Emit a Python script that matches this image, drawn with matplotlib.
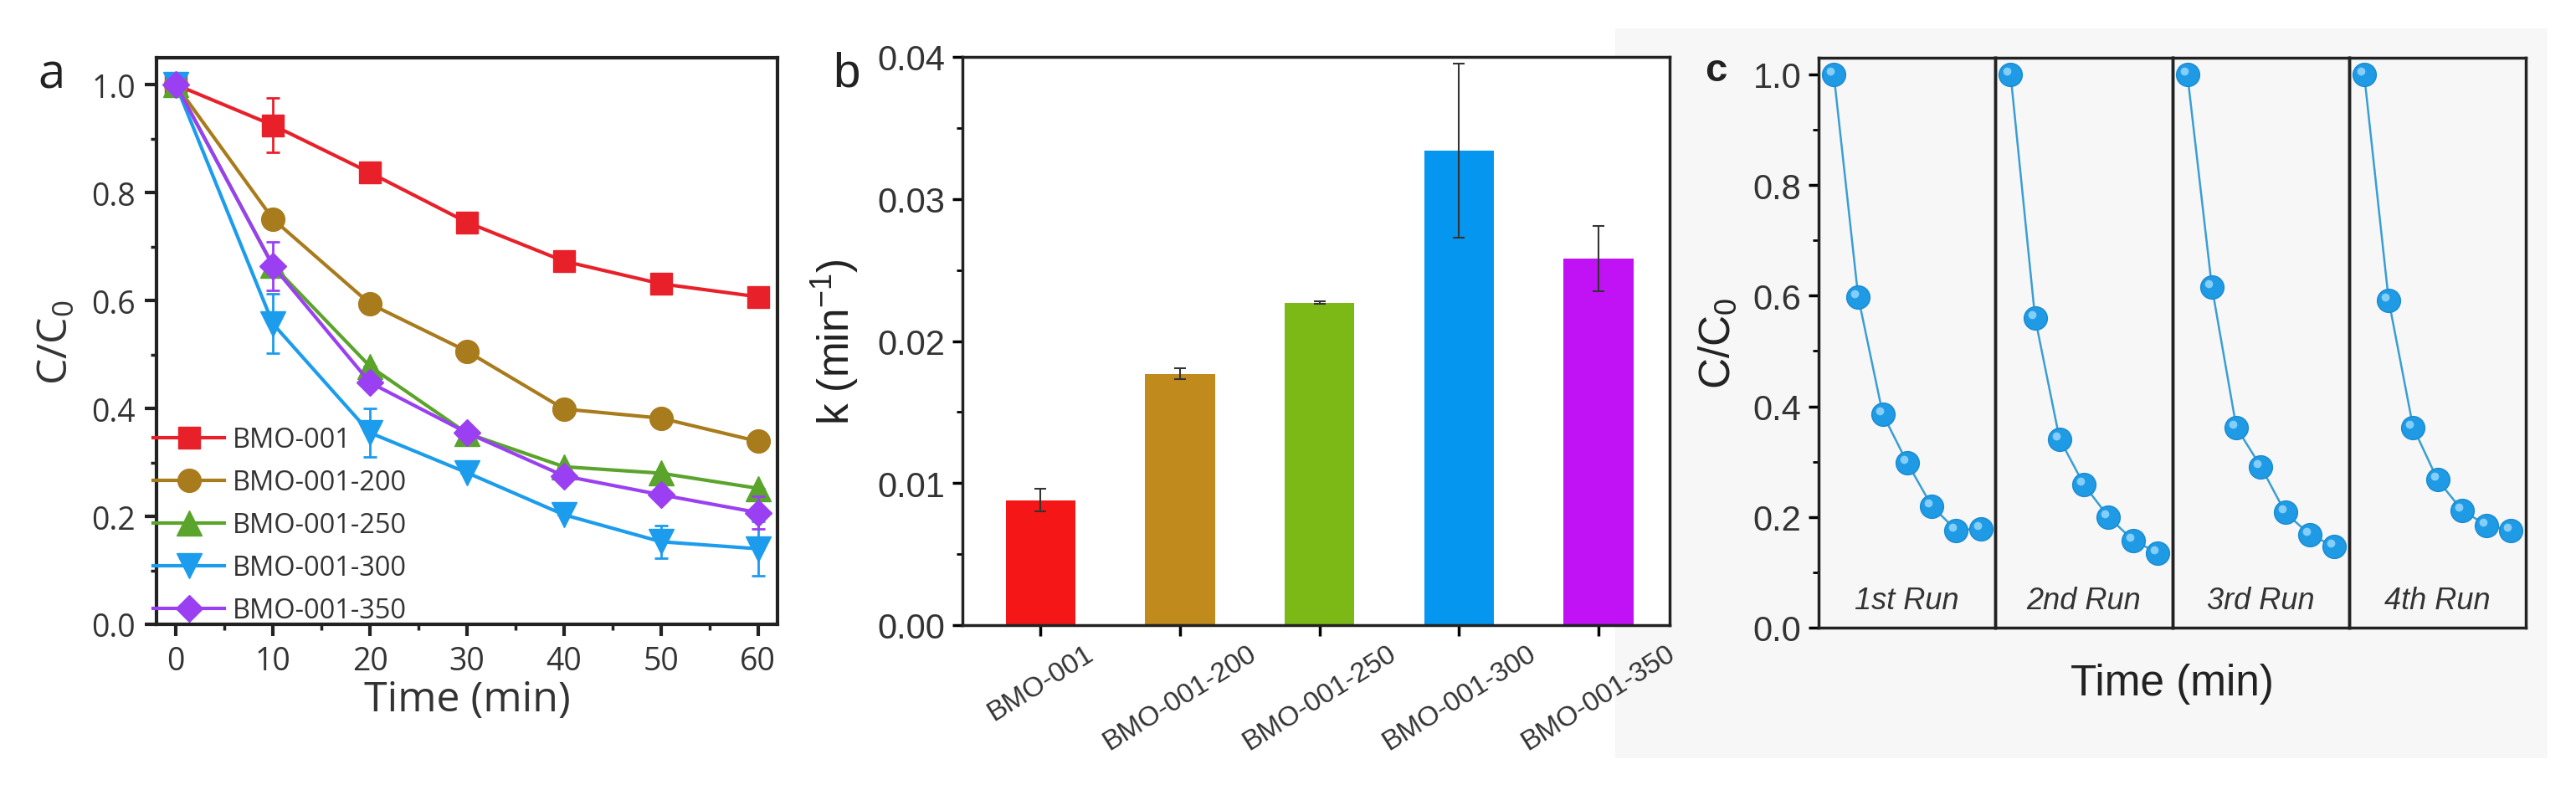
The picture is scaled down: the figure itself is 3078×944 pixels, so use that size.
import numpy as np
import matplotlib.pyplot as plt
from matplotlib.patches import Rectangle
from matplotlib.ticker import MultipleLocator
from matplotlib.transforms import offset_copy

plt.rcParams['font.family'] = ['Liberation Sans', 'DejaVu Sans']

W, H = 3078, 945

# ---- panel a : C/C0 vs time
time = [0, 10, 20, 30, 40, 50, 60]
names = ['BMO-001', 'BMO-001-200', 'BMO-001-250', 'BMO-001-300', 'BMO-001-350']
c_001 = [1.0, 0.925, 0.837, 0.745, 0.673, 0.631, 0.607]
c_200 = [1.0, 0.751, 0.594, 0.506, 0.399, 0.382, 0.339]
c_250 = [1.0, 0.665, 0.478, 0.354, 0.292, 0.280, 0.252]
c_300 = [1.0, 0.557, 0.355, 0.281, 0.203, 0.153, 0.140]
c_350 = [1.0, 0.664, 0.448, 0.355, 0.275, 0.240, 0.207]
e_001 = [0, 0.05, 0, 0, 0, 0, 0]
e_200 = [0, 0, 0, 0, 0, 0, 0]
e_250 = [0, 0, 0, 0, 0, 0, 0]
e_300 = [0, 0.055, 0.045, 0, 0, 0.03, 0.05]
e_350 = [0, 0.045, 0, 0, 0, 0, 0.03]

# ---- panel b : rate constants
k_val = [0.0088, 0.0177, 0.0227, 0.0334, 0.0258]
k_err = [0.0008, 0.0004, 0.0001, 0.0061, 0.0023]

# ---- panel c : recycling runs
runs = ['1st Run', '2nd Run', '3rd Run', '4th Run']
run1 = [1.0, 0.597, 0.386, 0.298, 0.220, 0.176, 0.179]
run2 = [1.0, 0.560, 0.341, 0.258, 0.200, 0.158, 0.135]
run3 = [1.0, 0.616, 0.362, 0.291, 0.208, 0.168, 0.147]
run4 = [1.0, 0.592, 0.362, 0.267, 0.212, 0.185, 0.176]


def px_axes(fig, l, t, r, b):
    return fig.add_axes([l / W, 1 - b / H, (r - l) / W, (b - t) / H])


fig = plt.figure(figsize=(W / 100, H / 100), dpi=100)

# light gray backdrop behind panel c
fig.patches.append(Rectangle((1930 / W, 1 - 907 / H), (3044 - 1930) / W, (907 - 35) / H,
                             transform=fig.transFigure, facecolor='#f7f7f7',
                             edgecolor='none', zorder=-10))

###############################################################################
# a
fa = ['Open Sans', 'DejaVu Sans']
ax = px_axes(fig, 187, 70, 929, 747)
ser = [c_001, c_200, c_250, c_300, c_350]
errs = [e_001, e_200, e_250, e_300, e_350]
cols = ['#e8202a', '#a87b1c', '#5aa42c', '#1c9cec', '#9a40f2']
mks = ['s', 'o', '^', 'v', 'D']
mss = [19, 20, 21, 21, 16]
for y, e, c, m, s, n in zip(ser, errs, cols, mks, mss, names):
    ax.errorbar(time, y, yerr=e, color=c, fmt='none', capsize=6, elinewidth=2,
                capthick=2, clip_on=False)
    ax.plot(time, y, color=c, marker=m, ms=s, lw=3, mec=c, label=n, clip_on=False)
ax.set_xlim(-2, 62)
ax.set_ylim(0, 1.05)
ax.xaxis.set_major_locator(MultipleLocator(10))
ax.xaxis.set_minor_locator(MultipleLocator(5))
ax.yaxis.set_major_locator(MultipleLocator(0.2))
ax.yaxis.set_minor_locator(MultipleLocator(0.1))
ax.yaxis.set_major_formatter(plt.FormatStrFormatter('%.1f'))
ax.tick_params(which='major', direction='out', length=10, width=3, color='#222',
               labelsize=27, labelcolor='#333', pad=8)
ax.tick_params(which='minor', direction='out', length=5, width=2.5, color='#222')
for lab in ax.get_xticklabels() + ax.get_yticklabels():
    lab.set_family(fa)
for sp in ax.spines.values():
    sp.set_linewidth(3)
    sp.set_color('#222')
ax.set_xlabel('Time (min)', fontsize=36, family=fa, color='#333', labelpad=2)
ax.set_ylabel(r'C/C$\mathregular{_0}$', fontsize=36, family=fa, color='#333', labelpad=12)
leg = ax.legend(loc='lower left', bbox_to_anchor=(-0.005, 0.0), frameon=False,
                prop={'family': fa, 'size': 23.5}, handlelength=2.6, handletextpad=0.3,
                labelspacing=0.55, borderpad=0, borderaxespad=0)
for t in leg.get_texts():
    t.set_color('#333')
fig.text(62 / W, 1 - 90 / H, 'a', fontsize=42, family=fa, color='#222', ha='center', va='center')

###############################################################################
# b
bx = px_axes(fig, 1150, 69, 1995, 748)
bar_cols = ['#f51717', '#c08a1c', '#7cb816', '#0596f0', '#c012f5']
xb = np.arange(len(names))
bx.bar(xb, k_val, width=0.5, color=bar_cols, zorder=2)
bx.errorbar(xb, k_val, yerr=k_err, fmt='none', ecolor='#333', elinewidth=1.5,
            capsize=5, capthick=1.5, zorder=3)
bx.set_xlim(-0.56, 4.51)
bx.set_ylim(0, 0.04)
bx.set_xticks(xb)
bx.set_xticklabels(names, rotation=32, fontsize=24, color='#333')
bx.yaxis.set_major_locator(MultipleLocator(0.01))
bx.yaxis.set_minor_locator(MultipleLocator(0.005))
bx.yaxis.set_major_formatter(plt.FormatStrFormatter('%.2f'))
bx.tick_params(axis='y', which='major', direction='out', length=9, width=2.5,
               labelsize=30, labelcolor='#333', pad=6)
bx.tick_params(axis='y', which='minor', direction='out', length=5, width=2)
bx.tick_params(axis='x', direction='out', length=9, width=2.5, pad=4)
for sp in bx.spines.values():
    sp.set_linewidth(2.5)
    sp.set_color('#222')
bx.set_ylabel(r'k (min$\mathregular{^{-1}}$)', fontsize=37, color='#222', labelpad=14)
fig.text(1012 / W, 1 - 88 / H, 'b', fontsize=42, color='#222', ha='center', va='center')

###############################################################################
# c
runs_y = [run1, run2, run3, run4]
edges = np.linspace(2173, 3018, 5)
for i, (y, name) in enumerate(zip(runs_y, runs)):
    cx = px_axes(fig, edges[i], 70, edges[i + 1], 751)
    cx.set_facecolor('none')
    cx.plot(time, y, color='#3a9ed4', lw=1.8, zorder=2)
    cx.plot(time, y, ls='none', marker='o', ms=20, mfc='#1f9ae4', mec='#1a8ad0',
            mew=1, zorder=3, clip_on=False)
    hl = offset_copy(cx.transData, fig=fig, x=-4, y=4, units='dots')
    cx.plot(time, y, ls='none', marker='o', ms=7, mfc='#9fdcff', mec='none',
            alpha=0.8, transform=hl, zorder=4, clip_on=False)
    cx.set_xlim(-6.2, 66)
    cx.set_ylim(0, 1.03)
    cx.set_xticks([])
    cx.text(0.5, 0.047, name, transform=cx.transAxes, ha='center', va='center',
            fontsize=26, style='italic', color='#333')
    for sp in cx.spines.values():
        sp.set_linewidth(2.5)
        sp.set_color('#222')
    if i == 0:
        cx.yaxis.set_major_locator(MultipleLocator(0.2))
        cx.yaxis.set_minor_locator(MultipleLocator(0.1))
        cx.yaxis.set_major_formatter(plt.FormatStrFormatter('%.1f'))
        cx.tick_params(axis='y', which='major', direction='out', length=9, width=2.5,
                       labelsize=30, labelcolor='#333', pad=6)
        cx.tick_params(axis='y', which='minor', direction='out', length=5, width=2)
        cx.set_ylabel(r'C/C$\mathregular{_0}$', fontsize=37, color='#222', labelpad=12)
    else:
        cx.set_yticks([])

fig.text(2595 / W, 1 - 818 / H, 'Time (min)', fontsize=37, color='#222',
         ha='center', va='center')
fig.text(2050 / W, 1 - 85 / H, 'c', fontsize=34, weight='bold', color='#222',
         ha='center', va='center')

fig.savefig('out.png', dpi=100, facecolor='white')
